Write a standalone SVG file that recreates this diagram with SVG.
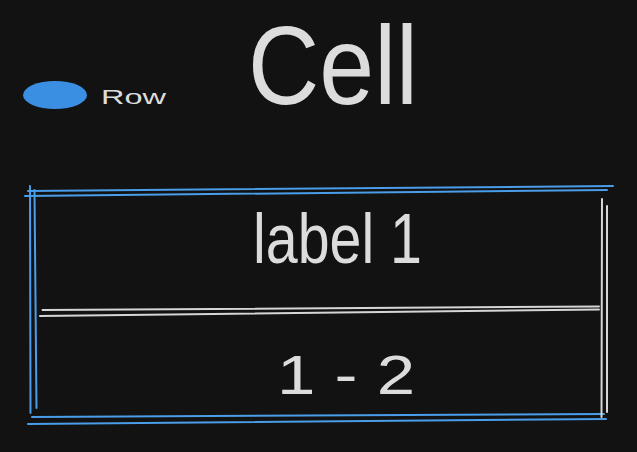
<svg xmlns="http://www.w3.org/2000/svg" width="637" height="452" viewBox="0 0 637 452">
  <style>
    .bg { fill: #121212; }
    .blue { stroke: #4a9de8; stroke-width: 2; fill: none; stroke-linecap: round; }
    .white { stroke: #d6d6d6; stroke-width: 2; fill: none; stroke-linecap: round; }
    .txt { fill: #dcdcdc; font-family: "Liberation Sans", Arial, sans-serif; }
  </style>
  <rect class="bg" x="0" y="0" width="637" height="452"/>

  <g id="legend-row">
    <ellipse cx="55" cy="95" rx="32" ry="14" fill="#3a8fe2"/>
    <text class="txt" x="101" y="104" font-size="20" textLength="65" lengthAdjust="spacingAndGlyphs">Row</text>
  </g>

  <g id="title-cell">
    <text class="txt" x="248" y="104" font-size="112" textLength="170" lengthAdjust="spacingAndGlyphs">Cell</text>
  </g>

  <g id="row">
    <path class="blue" d="M28 191 L613 186"/>
    <path class="blue" d="M25 196 L607 190"/>
    <path class="blue" d="M30 186 L30.5 413"/>
    <path class="blue" d="M34.5 190 L36.5 408"/>
    <path class="blue" d="M32 417 L604 414"/>
    <path class="blue" d="M28 424 L606 419"/>
  </g>

  <g id="cell-frame">
    <path class="white" d="M602 199 L601.5 417"/>
    <path class="white" d="M607 206 L607 412"/>
    <path class="white" d="M42.5 310 L599 306.5"/>
    <path class="white" d="M40 316 L599 309.5"/>
  </g>

  <g id="cell-label">
    <text class="txt" x="253" y="263" font-size="70" textLength="169" lengthAdjust="spacingAndGlyphs">label 1</text>
  </g>

  <g id="cell-value">
    <text class="txt" x="277" y="394" font-size="56" textLength="138" lengthAdjust="spacingAndGlyphs">1 - 2</text>
  </g>
</svg>
